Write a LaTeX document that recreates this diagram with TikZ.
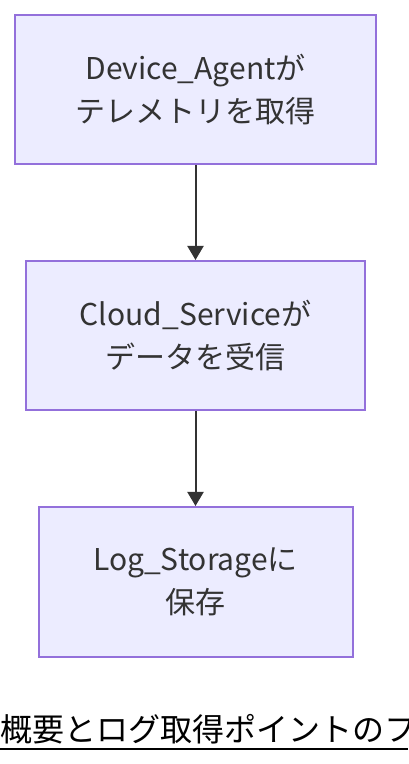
\documentclass[tikz,border=0pt]{standalone}
\usepackage{fontspec}
\setmainfont{Noto Sans CJK JP}
\usetikzlibrary{positioning, arrows.meta}
\definecolor{boxfill}{HTML}{ECECFF}
\definecolor{boxline}{HTML}{9370DB}
\definecolor{ink}{HTML}{333333}

\begin{document}
\begin{tikzpicture}[x=1pt, y=1pt, font=\fontsize{30}{43}\selectfont, text=ink, line width=2pt, node distance=95pt]

\useasboundingbox (0,0) rectangle (408,764);
\clip (0,0) rectangle (408,764);

% main line of boxes

\node[draw=boxline, fill=boxfill, align=center, minimum width=361pt, minimum height=149pt] (agent) at (195.5,674.5) {Device\_Agentが\\テレメトリを取得};
\node[draw=boxline, fill=boxfill, align=center, below = of agent, minimum width=339pt, minimum height=149pt] (cloud) {Cloud\_Serviceが\\データを受信};
\node[draw=boxline, fill=boxfill, align=center, below = of cloud, minimum width=314pt, minimum height=150pt] (storage) {Log\_Storageに\\保存};

% arrows

\draw[ink, -{Triangle[length=14pt, width=16pt]}]
    (agent) edge (cloud)
    (cloud) edge (storage);

% title

\node[anchor=base west, inner sep=0pt, text=black, font=\fontsize{32}{38}\selectfont] (title) at (0,23) {概要とログ取得ポイントのフ};
\draw[black] (title.base west) ++(0,-8) -- ++(408,0);

\end{tikzpicture}
\end{document}
